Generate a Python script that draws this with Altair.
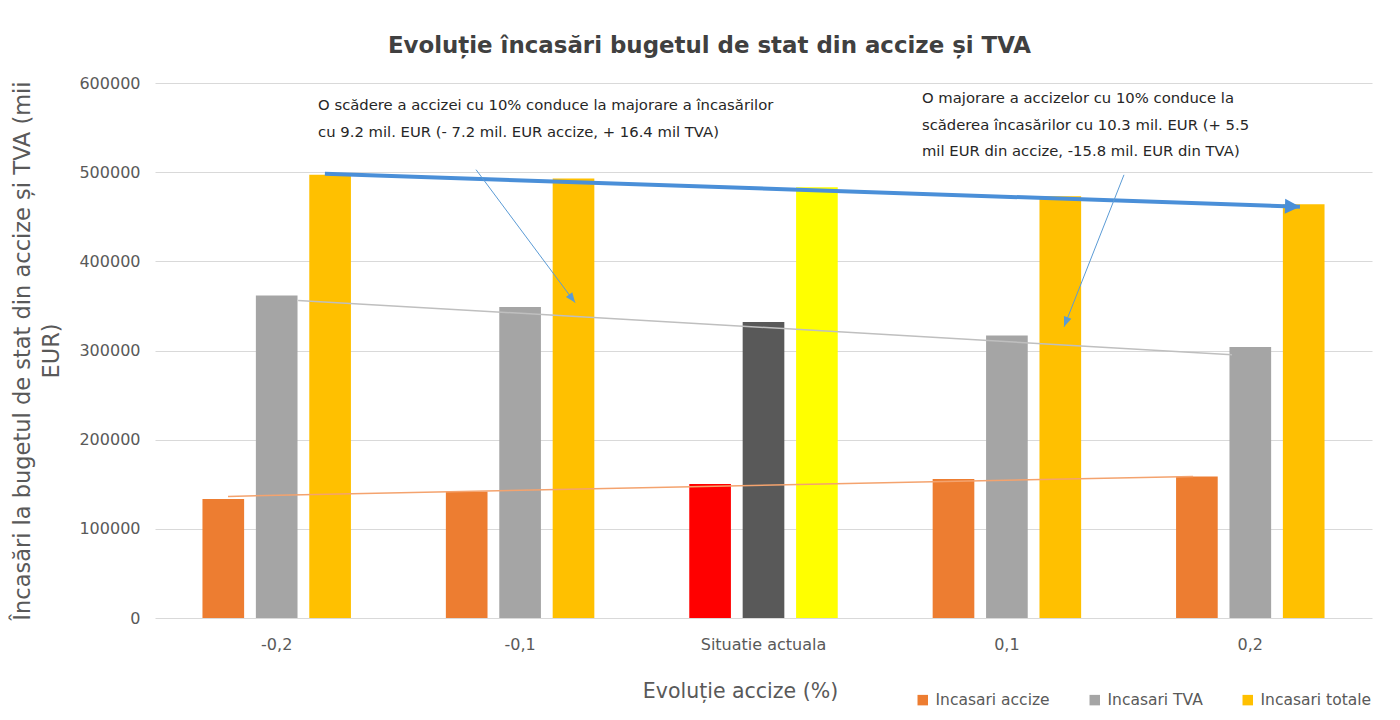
import altair as alt
import pandas as pd

# ---------------- data ----------------
cats = ["-0,2", "-0,1", "Situatie actuala", "0,1", "0,2"]
series = ["Incasari accize", "Incasari TVA", "Incasari totale"]
accize = [133500, 142000, 150300, 155900, 158800]
tva = [361800, 348800, 332000, 316900, 303900]
totale = [497000, 493000, 483000, 473000, 464000]
series_colors = ["#ED7D31", "#A5A5A5", "#FFC000"]
current_colors = ["#FF0000", "#595959", "#FFFF00"]

# trend lines (position in category units, value)
trend_names = ["totale", "tva", "accize"]
trend_x0 = [0.698, 0.588, 0.300]
trend_x1 = [4.704, 4.425, 4.265]
trend_y0 = [498300, 356200, 136400]
trend_y1 = [461300, 295300, 158800]
trend_colors = ["#4A8FD8", "#BFBFBF", "#F4A36E"]
trend_widths = [4, 1.5, 1.5]

# annotation arrows
arrow_x0 = [1.319, 3.981]
arrow_x1 = [1.726, 3.735]
arrow_y0 = [502800, 497000]
arrow_y1 = [353700, 326700]
arrow_angles = [143, 201]

annot_text = [
    "O scădere a accizei cu 10% conduce la majorare a încasărilor\ncu 9.2 mil. EUR (- 7.2 mil. EUR accize, + 16.4 mil TVA)",
    "O majorare a accizelor cu 10% conduce la\nscăderea încasărilor cu 10.3 mil. EUR (+ 5.5\nmil EUR din accize, -15.8 mil. EUR din TVA)",
]
annot_x = [0.670, 3.151]
annot_y = [583000, 591000]

FONT = "DejaVu Sans"
W, H = 1217, 535

# ---------------- tables ----------------
rows = []
for i, c in enumerate(cats):
    for j, (s, v) in enumerate(zip(series, [accize[i], tva[i], totale[i]])):
        rows.append({"cat": c, "serie": s, "val": v, "fill": current_colors[j]})
bars_df = pd.DataFrame(rows)

trend_rows = []
for k, n in enumerate(trend_names):
    trend_rows.append({"grp": n, "px": trend_x0[k], "val": trend_y0[k], "col": trend_colors[k], "w": trend_widths[k]})
    trend_rows.append({"grp": n, "px": trend_x1[k], "val": trend_y1[k], "col": trend_colors[k], "w": trend_widths[k]})
trend_df = pd.DataFrame(trend_rows)

arrow_rows = []
for k in range(len(arrow_x0)):
    arrow_rows.append({"grp": k, "px": arrow_x0[k], "val": arrow_y0[k]})
    arrow_rows.append({"grp": k, "px": arrow_x1[k], "val": arrow_y1[k]})
arrow_df = pd.DataFrame(arrow_rows)
head_df = pd.DataFrame({"px": arrow_x1, "val": arrow_y1, "ang": arrow_angles})
big_head_df = pd.DataFrame({"px": [trend_x1[0]], "val": [trend_y1[0]], "ang": [92]})
annot_df = pd.DataFrame({"px": annot_x, "val": annot_y, "txt": annot_text})

yscale = alt.Scale(domain=[0, 600000], nice=False)
xband = alt.Scale(domain=cats, paddingInner=0.39, paddingOuter=0.195)
xoff = alt.Scale(domain=series, paddingInner=0.22, paddingOuter=0)
xq = alt.Scale(domain=[0, 5], nice=False, zero=False)

x_axis = alt.Axis(
    title="Evoluție accize (%)", labelAngle=0, labelPadding=18, labelFontSize=16,
    labelColor="#595959", labelFont=FONT, domain=False, ticks=False, grid=False,
    titleFont=FONT, titleFontSize=20.5, titleFontWeight="normal", titleColor="#595959",
    titleX=585, titleY=79, titleBaseline="alphabetic", titleAlign="center",
)
y_axis = alt.Axis(
    title=["Încasări la bugetul de stat din accize și TVA (mii", "EUR)"],
    values=[0, 100000, 200000, 300000, 400000, 500000, 600000], format="d",
    labelFontSize=16, labelColor="#595959", labelFont=FONT, labelPadding=15,
    domain=False, ticks=False, grid=True, gridColor="#D9D9D9", gridWidth=1,
    titleFont=FONT, titleFontSize=22.5, titleFontWeight="normal", titleColor="#595959",
    titleAngle=270, titleX=-144, titleY=H / 2, titleAlign="center", titleBaseline="top",
    titleLineHeight=29,
)

x_enc = alt.X("cat:N", sort=cats, scale=xband, axis=x_axis)
y_enc = alt.Y("val:Q", scale=yscale, axis=y_axis)
xoff_enc = alt.XOffset("serie:N", sort=series, scale=xoff)

bars_main = alt.Chart(bars_df).transform_filter(
    alt.datum.cat != "Situatie actuala"
).mark_bar().encode(
    x=x_enc, xOffset=xoff_enc, y=y_enc,
    color=alt.Color(
        "serie:N", sort=series, scale=alt.Scale(domain=series, range=series_colors),
        legend=alt.Legend(
            title=None, orient="none", legendX=760, legendY=609, direction="horizontal",
            labelFontSize=15.5, labelColor="#595959", labelFont=FONT, symbolType="square",
            symbolSize=110, symbolStrokeWidth=0, columnPadding=37, padding=0, labelOffset=5,
        ),
    ),
)
bars_cur = alt.Chart(bars_df).transform_filter(
    alt.datum.cat == "Situatie actuala"
).mark_bar().encode(
    x=x_enc, xOffset=xoff_enc, y=y_enc,
    color=alt.Color("fill:N", scale=None),
)
bars = alt.layer(bars_main, bars_cur)

xq_enc = alt.X("px:Q", scale=xq, axis=None)
yq_enc = alt.Y("val:Q", scale=yscale, axis=y_axis)

trends = alt.Chart(trend_df).mark_line().encode(
    x=xq_enc, y=yq_enc, detail="grp:N",
    color=alt.Color("col:N", scale=None),
    strokeWidth=alt.StrokeWidth("w:Q", scale=None),
)
big_head = alt.Chart(big_head_df).mark_point(
    shape="M0,0 L-1,2 L1,2 Z", filled=True, size=225, color="#4A8FD8", opacity=1
).encode(x=xq_enc, y=yq_enc, angle=alt.Angle("ang:Q", scale=None))

arrows = alt.Chart(arrow_df).mark_line(color="#5B9BD5", strokeWidth=1).encode(
    x=xq_enc, y=yq_enc, detail="grp:N"
)
heads = alt.Chart(head_df).mark_point(
    shape="M0,0 L-0.8,2 L0.8,2 Z", filled=True, size=100, color="#5B9BD5", opacity=1
).encode(x=xq_enc, y=yq_enc, angle=alt.Angle("ang:Q", scale=None))

annots = alt.Chart(annot_df).mark_text(
    align="left", baseline="top", font=FONT, fontSize=14.8, color="#262626",
    lineBreak="\n", lineHeight=26.5,
).encode(x=xq_enc, y=yq_enc, text="txt:N")

chart = alt.layer(bars, trends, big_head, arrows, heads, annots).resolve_scale(
    x="independent"
).properties(
    width=W, height=H,
    autosize=alt.AutoSizeParams(type="none"),
    padding={"left": 147, "top": 75, "right": 20, "bottom": 100},
    background="white",
    title=alt.TitleParams(
        "Evoluție încasări bugetul de stat din accize și TVA",
        font=FONT, fontSize=22.9, fontWeight="bold", color="#404040",
        anchor="middle", dx=-54, offset=17,
    ),
).configure_view(stroke=None)

chart.save("out.html", embed_options={"renderer": "svg", "actions": False})
